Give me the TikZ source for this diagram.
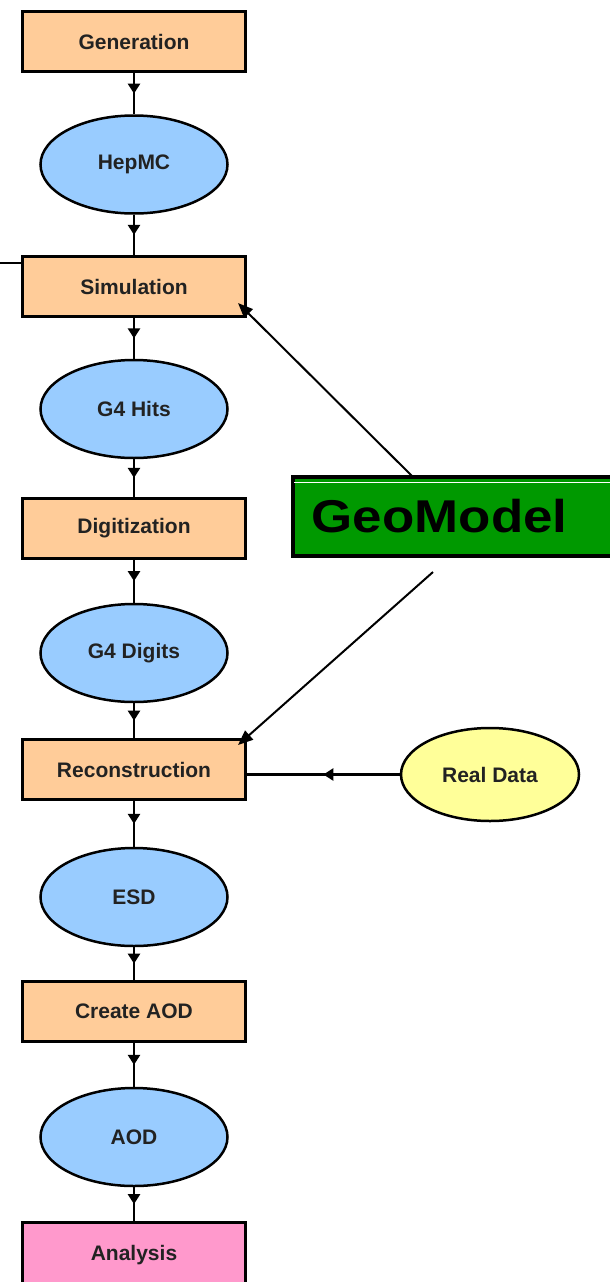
\documentclass[tikz,border=0pt]{standalone}
\usepackage{fontspec}
\setmainfont{Liberation Sans}
\usetikzlibrary{shapes.geometric,arrows.meta,decorations.markings,calc}
\definecolor{peach}{HTML}{FFCC99}
\definecolor{lblue}{HTML}{99CCFF}
\definecolor{lyellow}{HTML}{FFFF99}
\definecolor{lpink}{HTML}{FF99CC}
\definecolor{ggreen}{HTML}{009900}
\definecolor{txt}{HTML}{222222}
\begin{document}
\begin{tikzpicture}[x=1pt,y=-1pt,
  lbl/.style={font=\fontsize{21}{25}\selectfont\bfseries, text=txt},
  box/.style={lbl, rectangle, draw=black, line width=3pt, fill=peach,
    minimum width=223pt, minimum height=60pt, inner sep=0pt},
  ell/.style={lbl, ellipse, draw=black, line width=2.5pt, fill=lblue,
    minimum width=187pt, minimum height=98pt, inner sep=0pt},
  flow/.style={line width=2.8pt, postaction={decorate},
    decoration={markings, mark=at position 0.5 with {\arrow{Triangle[length=10pt,width=12pt]}}}},
  geoarrow/.style={line width=2pt, -{Triangle[length=15pt,width=12pt]}}
]
\useasboundingbox (0,0) rectangle (610,1282);
\clip (0,0) rectangle (610,1282);

% main chain
\node[box] (gen) at (134,41.5) {Generation};
\node[ell] (hep) at (134,164.5) {HepMC};
\node[box] (sim) at (134,286.5) {Simulation};
\node[ell] (hits) at (134,409) {G4 Hits};
\node[box] (digi) at (134,528) {Digitization};
\node[ell] (digits) at (134,653) {G4 Digits};
\node[box] (rec) at (134,769.5) {Reconstruction};
\node[ell] (esd) at (134,897) {ESD};
\node[box] (aod0) at (134,1011.5) {Create AOD};
\node[ell] (aod) at (134,1137) {AOD};
\node[box, fill=lpink, minimum height=70pt, text depth=9pt] (ana) at (134,1257.5) {Analysis};

\node[ell, fill=lyellow, minimum width=178pt, minimum height=93pt] (rd) at (490,774.5) {Real Data};

% GeoModel box
\node[rectangle, draw=black, line width=3.5pt, fill=ggreen, anchor=west,
  minimum height=79pt, inner xsep=19pt, inner ysep=0pt, text width=310pt, align=left,
  font=\fontsize{46}{50}\selectfont\bfseries, text=black] (geo) at (291,516.5)
  {\scalebox{1.15}[1]{GeoModel}};
\draw[white, line width=1pt] ($(geo.north west)+(3,7)$) -- ($(geo.north east)+(-3,7)$);

% flow connectors
\draw[flow] (gen) -- (hep);
\draw[flow] (hep) -- (sim);
\draw[flow] (sim) -- (hits);
\draw[flow] (hits) -- (digi);
\draw[flow] (digi) -- (digits);
\draw[flow] (digits) -- (rec);
\draw[flow] (rec) -- (esd);
\draw[flow] (esd) -- (aod0);
\draw[flow] (aod0) -- (aod);
\draw[flow] (aod) -- (ana);
\draw[flow] (rd.west) -- (rd.west -| rec.east);

% GeoModel arrows
\coordinate (g1) at (413,477);
\coordinate (g2) at (433,572);
\coordinate (simtip) at (238,303);
\coordinate (rectip) at (238,745);
\draw[geoarrow] (g1) -- (simtip);
\draw[geoarrow] (g2) -- (rectip);

% stub line at left
\coordinate (lft) at (0,263);
\draw[line width=2pt] (lft) -- (lft -| sim.west);
\end{tikzpicture}
\end{document}
